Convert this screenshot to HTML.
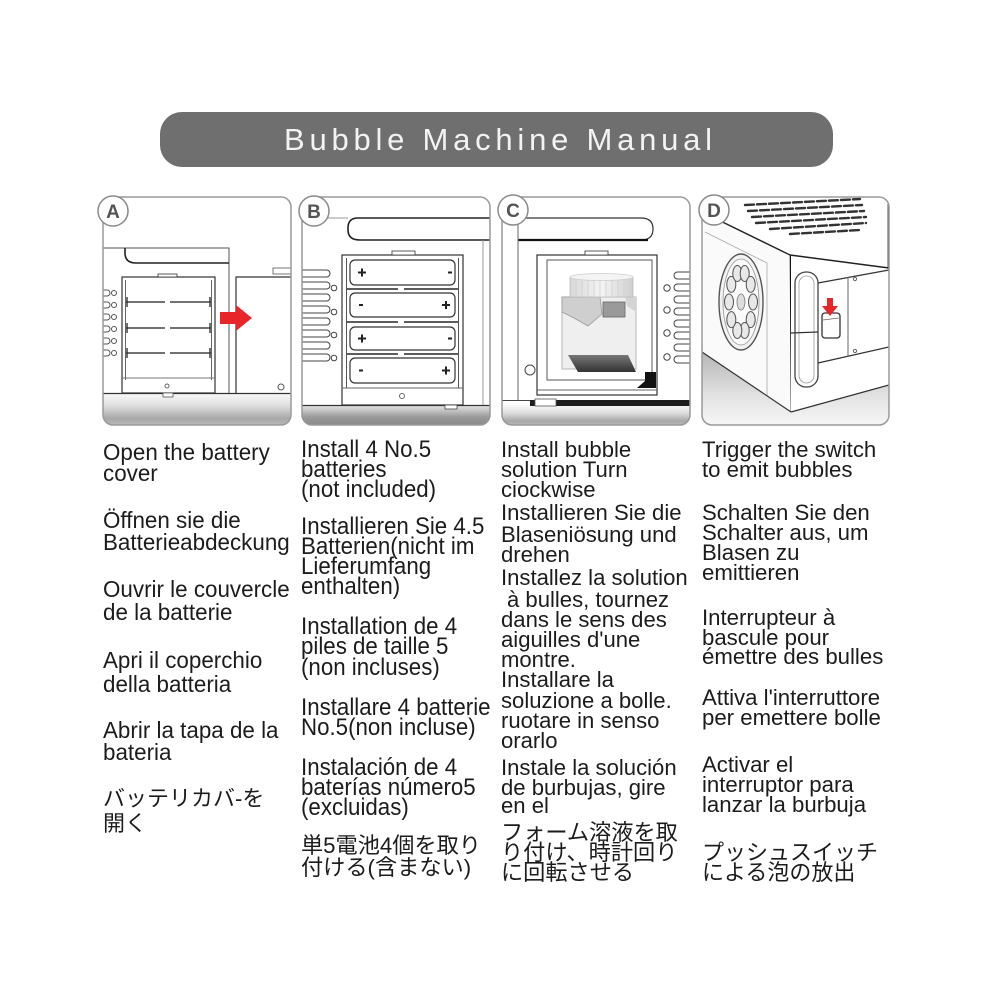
<!DOCTYPE html>
<html><head><meta charset="utf-8">
<style>html,body{margin:0;padding:0;background:#fff}svg{display:block}</style>
</head>
<body>
<svg width="1000" height="1000" viewBox="0 0 1000 1000" xmlns="http://www.w3.org/2000/svg">
<defs>
 <linearGradient id="fl" x1="0" y1="0" x2="0" y2="1">
  <stop offset="0" stop-color="#fafafa"/><stop offset="0.4" stop-color="#dedede"/><stop offset="0.8" stop-color="#a8a8a8"/><stop offset="1" stop-color="#b8b8b8"/>
 </linearGradient>
 <linearGradient id="fl2" x1="0" y1="0" x2="0" y2="1">
  <stop offset="0" stop-color="#e8e8e8"/><stop offset="0.6" stop-color="#9a9a9a"/><stop offset="1" stop-color="#888"/>
 </linearGradient>
 <linearGradient id="fl3" x1="0" y1="0" x2="0" y2="1">
  <stop offset="0" stop-color="#b5b5b5"/><stop offset="0.6" stop-color="#e2e2e2"/><stop offset="1" stop-color="#f6f6f6"/>
 </linearGradient>
 <linearGradient id="cap" x1="0" y1="0" x2="1" y2="0">
  <stop offset="0" stop-color="#d8d8d8"/><stop offset="0.5" stop-color="#f4f4f4"/><stop offset="1" stop-color="#d0d0d0"/>
 </linearGradient>
 <linearGradient id="base" x1="0" y1="0" x2="0" y2="1">
  <stop offset="0" stop-color="#777"/><stop offset="1" stop-color="#333"/>
 </linearGradient>
 <clipPath id="cA"><rect x="103" y="197" width="188" height="228" rx="10"/></clipPath>
 <clipPath id="cB"><rect x="302" y="197" width="188" height="228" rx="10"/></clipPath>
 <clipPath id="cC"><rect x="502" y="197" width="188" height="228" rx="10"/></clipPath>
 <clipPath id="cD"><rect x="702" y="197" width="187" height="228" rx="10"/></clipPath>
</defs>
<rect width="1000" height="1000" fill="#fff"/>

<!-- Header -->
<rect x="160" y="112" width="673" height="55" rx="22" fill="#6f6f6f"/>
<text x="284" y="150" font-family="Liberation Sans, sans-serif" font-size="31" fill="#f3f3f3" textLength="428" lengthAdjust="spacing">Bubble Machine Manual</text>

<!-- ============ Panel A ============ -->
<g clip-path="url(#cA)">
 <rect x="103" y="393" width="188" height="32" fill="url(#fl)"/>
 <line x1="103" y1="393.5" x2="291" y2="393.5" stroke="#333" stroke-width="1.2"/>
 <path d="M103 248H229V393" fill="none" stroke="#555" stroke-width="1"/>
 <path d="M125 248v5q0 10 11 10H229" fill="none" stroke="#222" stroke-width="1.6"/>
 <g fill="none" stroke="#555" stroke-width="1">
  <rect x="100" y="290" width="10" height="6" rx="3"/><circle cx="114" cy="293" r="2.5"/>
  <rect x="100" y="302" width="10" height="6" rx="3"/><circle cx="114" cy="305" r="2.5"/>
  <rect x="100" y="314" width="10" height="6" rx="3"/><circle cx="114" cy="317" r="2.5"/>
  <rect x="100" y="326" width="10" height="6" rx="3"/><circle cx="114" cy="329" r="2.5"/>
  <rect x="100" y="338" width="10" height="6" rx="3"/><circle cx="114" cy="341" r="2.5"/>
  <rect x="100" y="350" width="10" height="6" rx="3"/><circle cx="114" cy="353" r="2.5"/>
 </g>
 <rect x="122" y="277" width="93" height="116" fill="#fff" stroke="#333" stroke-width="1.2"/>
 <rect x="158" y="274" width="19" height="3" fill="#fff" stroke="#333" stroke-width="0.8"/>
 <line x1="125.5" y1="280" x2="125.5" y2="380" stroke="#666" stroke-width="1"/>
 <line x1="211.5" y1="280" x2="211.5" y2="380" stroke="#666" stroke-width="1"/>
 <g stroke="#444" stroke-width="1.6">
  <line x1="126" y1="302" x2="165" y2="302"/><line x1="170" y1="302" x2="211" y2="302"/>
  <line x1="126" y1="328" x2="165" y2="328"/><line x1="170" y1="328" x2="211" y2="328"/>
  <line x1="126" y1="353" x2="165" y2="353"/><line x1="170" y1="353" x2="211" y2="353"/>
 </g>
 <g stroke="#333" stroke-width="1.4">
  <line x1="127" y1="297" x2="127" y2="307"/><line x1="210" y1="297" x2="210" y2="307"/>
  <line x1="127" y1="323" x2="127" y2="333"/><line x1="210" y1="323" x2="210" y2="333"/>
  <line x1="127" y1="348" x2="127" y2="358"/><line x1="210" y1="348" x2="210" y2="358"/>
 </g>
 <line x1="122" y1="378" x2="215" y2="378" stroke="#777" stroke-width="1"/>
 <circle cx="167" cy="386" r="2" fill="none" stroke="#666"/>
 <rect x="163" y="393" width="10" height="4" fill="#fff" stroke="#555" stroke-width="0.8"/>
 <path d="M236 393V277H291" fill="#fff" stroke="#333" stroke-width="1.2"/>
 <rect x="273" y="268" width="20" height="6" fill="#fff" stroke="#555" stroke-width="0.8"/>
 <circle cx="281" cy="387" r="3" fill="none" stroke="#555"/>
 <polygon points="220,312 236,312 236,305 252,318 236,331 236,324 220,324" fill="#e8262a"/>
</g>
<rect x="103" y="197" width="188" height="228" rx="10" fill="none" stroke="#9a9a9a" stroke-width="1.5"/>
<circle cx="113" cy="211" r="15" fill="#fff" stroke="#8a8a8a" stroke-width="1.5"/>
<text x="113" y="218" font-family="Liberation Sans, sans-serif" font-size="19" font-weight="bold" text-anchor="middle" fill="#555">A</text>

<!-- ============ Panel B ============ -->
<g clip-path="url(#cB)">
 <rect x="302" y="405" width="188" height="20" fill="url(#fl2)"/>
 <line x1="302" y1="405.5" x2="490" y2="405.5" stroke="#333" stroke-width="1.2"/>
 <line x1="302" y1="218" x2="348" y2="218" stroke="#999" stroke-width="1"/>
 <path d="M490 218H358q-10 0-10 10v2q0 10 12 10H490" fill="none" stroke="#222" stroke-width="1.6"/>
 <line x1="483" y1="240" x2="483" y2="405" stroke="#999" stroke-width="1"/>
 <g fill="none" stroke="#444" stroke-width="1">
  <rect x="296" y="270" width="34" height="7" rx="3.5"/>
  <rect x="296" y="282" width="34" height="7" rx="3.5"/>
  <rect x="296" y="294" width="34" height="7" rx="3.5"/>
  <rect x="296" y="306" width="34" height="7" rx="3.5"/>
  <rect x="296" y="318" width="34" height="7" rx="3.5"/>
  <rect x="296" y="330" width="34" height="7" rx="3.5"/>
  <rect x="296" y="342" width="34" height="7" rx="3.5"/>
  <rect x="296" y="354" width="34" height="7" rx="3.5"/>
  <circle cx="334" cy="288" r="2.8"/><circle cx="334" cy="312" r="2.8"/>
  <circle cx="334" cy="335" r="2.8"/><circle cx="334" cy="358" r="2.8"/>
 </g>
 <rect x="342" y="255" width="121" height="150" fill="#fff" stroke="#333" stroke-width="1.2"/>
 <rect x="392" y="251" width="23" height="4" fill="#fff" stroke="#333" stroke-width="0.8"/>
 <line x1="346.5" y1="258" x2="346.5" y2="388" stroke="#555"/>
 <line x1="458.5" y1="258" x2="458.5" y2="388" stroke="#555"/>
 <g stroke="#444" stroke-width="1.8">
  <line x1="347" y1="289" x2="398" y2="289"/><line x1="404" y1="289" x2="458" y2="289"/>
  <line x1="347" y1="322" x2="398" y2="322"/><line x1="404" y1="322" x2="458" y2="322"/>
  <line x1="347" y1="354" x2="398" y2="354"/><line x1="404" y1="354" x2="458" y2="354"/>
 </g>
 <g fill="#fff" stroke="#333" stroke-width="1.2">
  <rect x="350" y="260" width="105" height="25" rx="5"/>
  <rect x="350" y="293" width="105" height="24" rx="5"/>
  <rect x="350" y="327" width="105" height="23" rx="5"/>
  <rect x="350" y="358" width="105" height="25" rx="5"/>
 </g>
 <g stroke="#222" stroke-width="2">
  <line x1="358" y1="272.5" x2="366" y2="272.5"/><line x1="362" y1="268.5" x2="362" y2="276.5"/>
  <line x1="448" y1="272.5" x2="452" y2="272.5"/>
  <line x1="359" y1="305" x2="363" y2="305"/>
  <line x1="442" y1="305" x2="450" y2="305"/><line x1="446" y1="301" x2="446" y2="309"/>
  <line x1="358" y1="338.5" x2="366" y2="338.5"/><line x1="362" y1="334.5" x2="362" y2="342.5"/>
  <line x1="448" y1="338.5" x2="452" y2="338.5"/>
  <line x1="359" y1="370.5" x2="363" y2="370.5"/>
  <line x1="442" y1="370.5" x2="450" y2="370.5"/><line x1="446" y1="366.5" x2="446" y2="374.5"/>
 </g>
 <line x1="342" y1="388" x2="463" y2="388" stroke="#666"/>
 <circle cx="402" cy="396" r="2.5" fill="none" stroke="#666"/>
 <rect x="445" y="405" width="12" height="4" fill="#fff" stroke="#444" stroke-width="0.8"/>
</g>
<rect x="302" y="197" width="188" height="228" rx="10" fill="none" stroke="#9a9a9a" stroke-width="1.5"/>
<circle cx="314" cy="211" r="15" fill="#fff" stroke="#8a8a8a" stroke-width="1.5"/>
<text x="314" y="218" font-family="Liberation Sans, sans-serif" font-size="19" font-weight="bold" text-anchor="middle" fill="#555">B</text>

<!-- ============ Panel C ============ -->
<g clip-path="url(#cC)">
 <rect x="502" y="405" width="188" height="20" fill="url(#fl)"/>
 <rect x="530" y="400" width="160" height="6" fill="#1e1e1e"/>
 <line x1="502" y1="400.5" x2="530" y2="400.5" stroke="#444"/>
 <rect x="535" y="399" width="21" height="7" fill="#fff" stroke="#555" stroke-width="0.8"/>
 <path d="M518 218H641q12 0 12 11q0 11-12 11H518" fill="none" stroke="#333" stroke-width="1.2"/>
 <line x1="518" y1="240" x2="648" y2="240" stroke="#111" stroke-width="2.2"/>
 <line x1="518" y1="218" x2="518" y2="400" stroke="#666" stroke-width="1"/>
 <g fill="none" stroke="#444" stroke-width="1">
  <rect x="674" y="272" width="30" height="7" rx="3.5"/>
  <rect x="674" y="284" width="30" height="7" rx="3.5"/>
  <rect x="674" y="296" width="30" height="7" rx="3.5"/>
  <rect x="674" y="308" width="30" height="7" rx="3.5"/>
  <rect x="674" y="320" width="30" height="7" rx="3.5"/>
  <rect x="674" y="332" width="30" height="7" rx="3.5"/>
  <rect x="674" y="344" width="30" height="7" rx="3.5"/>
  <rect x="674" y="356" width="30" height="7" rx="3.5"/>
  <circle cx="667" cy="288" r="3.2"/><circle cx="667" cy="310" r="3.2"/>
  <circle cx="667" cy="333" r="3.2"/><circle cx="667" cy="357" r="3.2"/>
 </g>
 <circle cx="530" cy="370" r="5" fill="none" stroke="#444"/>
 <rect x="537" y="255" width="120" height="140" fill="#fff" stroke="#333" stroke-width="1.2"/>
 <rect x="585" y="251" width="23" height="4" fill="#fff" stroke="#333" stroke-width="0.8"/>
 <rect x="547" y="260" width="105" height="120" fill="none" stroke="#555" stroke-width="1"/>
 <line x1="537" y1="390" x2="657" y2="390" stroke="#666"/>
 <polygon points="637,388 656,388 656,372 645,372 645,381" fill="#111"/>
 <rect x="562" y="297" width="74" height="72" fill="#efefef" stroke="#b5b5b5" stroke-width="1"/>
 <polygon points="562,297 600,297 602,314 588,326 574,318 562,312" fill="#cfcfcf" stroke="#999" stroke-width="0.8"/>
 <rect x="603" y="302" width="22" height="15" fill="#9a9a9a" stroke="#666" stroke-width="0.8"/>
 <polygon points="625,297 636,297 636,312 627,306" fill="#d4d4d4"/>
 <rect x="570" y="277" width="63" height="20" fill="url(#cap)" stroke="#bbb" stroke-width="0.8"/>
 <ellipse cx="601.5" cy="277" rx="31.5" ry="3.5" fill="#f4f4f4" stroke="#ccc" stroke-width="0.8"/>
 <g stroke="#d0d0d0" stroke-width="0.8">
  <line x1="576" y1="280" x2="576" y2="296"/><line x1="582" y1="280" x2="582" y2="296"/>
  <line x1="588" y1="280" x2="588" y2="296"/><line x1="594" y1="280" x2="594" y2="296"/>
  <line x1="600" y1="280" x2="600" y2="296"/><line x1="606" y1="280" x2="606" y2="296"/>
  <line x1="612" y1="280" x2="612" y2="296"/><line x1="618" y1="280" x2="618" y2="296"/>
  <line x1="624" y1="280" x2="624" y2="296"/>
 </g>
 <polygon points="568,355 628,355 636,372 578,372" fill="url(#base)"/>
</g>
<rect x="502" y="197" width="188" height="228" rx="10" fill="none" stroke="#9a9a9a" stroke-width="1.5"/>
<circle cx="513" cy="210" r="15" fill="#fff" stroke="#8a8a8a" stroke-width="1.5"/>
<text x="513" y="217" font-family="Liberation Sans, sans-serif" font-size="19" font-weight="bold" text-anchor="middle" fill="#555">C</text>

<!-- ============ Panel D ============ -->
<g clip-path="url(#cD)">
 <polygon points="702,352 791,412 889,385 889,425 702,425" fill="url(#fl3)"/>
 <polygon points="702,190 889,190 889,268 790,255 702,212" fill="#fff"/>
 <g stroke="#333" stroke-width="2.4" stroke-dasharray="9 3" stroke-linecap="round">
  <line x1="745" y1="205" x2="860" y2="199"/>
  <line x1="748" y1="211" x2="862" y2="205"/>
  <line x1="752" y1="217" x2="864" y2="211"/>
  <line x1="756" y1="223" x2="866" y2="217"/>
  <line x1="770" y1="229" x2="866" y2="223"/>
  <line x1="790" y1="234" x2="860" y2="230"/>
 </g>
 <line x1="888" y1="197" x2="888" y2="268" stroke="#555"/>
 <polygon points="702,212 790,255 791,412 702,352" fill="#fafafa"/>
 <path d="M702 212L790 255" fill="none" stroke="#222" stroke-width="1.4"/>
 <path d="M705 232L767 263V396" fill="none" stroke="#aaa" stroke-width="0.8"/>
 <line x1="790.5" y1="255" x2="791.5" y2="412" stroke="#111" stroke-width="1.6"/>
 <line x1="702" y1="352" x2="791" y2="412" stroke="#333" stroke-width="1.2"/>
 <ellipse cx="741" cy="302" rx="22" ry="48" fill="#f2f2f2" stroke="#555" stroke-width="1.4"/>
 <ellipse cx="741" cy="302" rx="18" ry="43" fill="#fafafa" stroke="#999" stroke-width="0.8"/>
 <g fill="#e8e8e8" stroke="#555" stroke-width="1">
  <ellipse cx="753" cy="302" rx="4.5" ry="8"/>
  <ellipse cx="750.7" cy="319.6" rx="4.5" ry="8"/>
  <ellipse cx="744.7" cy="330.5" rx="4.5" ry="8"/>
  <ellipse cx="737.3" cy="330.5" rx="4.5" ry="8"/>
  <ellipse cx="731.3" cy="319.6" rx="4.5" ry="8"/>
  <ellipse cx="729" cy="302" rx="4.5" ry="8"/>
  <ellipse cx="731.3" cy="284.4" rx="4.5" ry="8"/>
  <ellipse cx="737.3" cy="273.5" rx="4.5" ry="8"/>
  <ellipse cx="744.7" cy="273.5" rx="4.5" ry="8"/>
  <ellipse cx="750.7" cy="284.4" rx="4.5" ry="8"/>
 </g>
 <ellipse cx="741" cy="302" rx="4" ry="8" fill="#ddd" stroke="#777" stroke-width="0.8"/>
 <polygon points="791,255 889,268 889,385 791,412" fill="#fff"/>
 <line x1="790" y1="255" x2="889" y2="268" stroke="#222" stroke-width="1.4"/>
 <line x1="791" y1="412" x2="889" y2="385" stroke="#333" stroke-width="1.2"/>
 <rect x="795" y="272" width="23" height="115" rx="11" fill="none" stroke="#444" stroke-width="1.3"/>
 <rect x="799" y="276" width="15" height="107" rx="7.5" fill="none" stroke="#999" stroke-width="0.8"/>
 <line x1="791" y1="333" x2="818" y2="332" stroke="#333" stroke-width="1.2"/>
 <line x1="818" y1="283" x2="889" y2="270" stroke="#333" stroke-width="1.2"/>
 <line x1="818" y1="363" x2="889" y2="347" stroke="#333" stroke-width="1.2"/>
 <line x1="848" y1="277" x2="848" y2="357" stroke="#666" stroke-width="1"/>
 <circle cx="855" cy="279" r="1.6" fill="none" stroke="#666"/>
 <circle cx="855" cy="351" r="1.6" fill="none" stroke="#666"/>
 <rect x="822" y="313" width="18" height="25" rx="3" fill="#fff" stroke="#333" stroke-width="1.3"/>
 <line x1="823" y1="320" x2="839" y2="318" stroke="#666" stroke-width="0.8"/>
 <polygon points="827,298 833,298 833,306 838,306 830,316 822,306 827,306" fill="#e8262a"/>
</g>
<rect x="702" y="197" width="187" height="228" rx="10" fill="none" stroke="#9a9a9a" stroke-width="1.5"/>
<circle cx="714" cy="210" r="15" fill="#fff" stroke="#8a8a8a" stroke-width="1.5"/>
<text x="714" y="217" font-family="Liberation Sans, sans-serif" font-size="19" font-weight="bold" text-anchor="middle" fill="#555">D</text>

<!-- ============ Text columns ============ -->
<g font-family="Liberation Sans, Noto Sans CJK JP, sans-serif" fill="#1c1c1c">
 <g font-size="22.4">
  <text transform="translate(103,460) scale(1,1.04)">Open the battery</text>
  <text transform="translate(103,481) scale(1,1.04)">cover</text>
  <text transform="translate(103,528) scale(1,1.04)">Öffnen sie die</text>
  <text transform="translate(103,550) scale(1,1.04)">Batterieabdeckung</text>
  <text transform="translate(103,597) scale(1,1.04)">Ouvrir le couvercle</text>
  <text transform="translate(103,620) scale(1,1.04)">de la batterie</text>
  <text transform="translate(103,668) scale(1,1.04)">Apri il coperchio</text>
  <text transform="translate(103,692) scale(1,1.04)">della batteria</text>
  <text transform="translate(103,738) scale(1,1.04)">Abrir la tapa de la</text>
  <text transform="translate(103,760) scale(1,1.04)">bateria</text>
 </g>
 <g font-size="22">
  <text x="103" y="806">バッテリカバ-を</text>
  <text x="103" y="831">開く</text>
 </g>

 <g font-size="22.3">
  <text transform="translate(301,457) scale(1,1.06)">Install 4 No.5</text>
  <text transform="translate(301,477) scale(1,1.06)">batteries</text>
  <text transform="translate(301,497) scale(1,1.06)">(not included)</text>
  <text transform="translate(301,534) scale(1,1.06)">Installieren Sie 4.5</text>
  <text transform="translate(301,554) scale(1,1.06)">Batterien(nicht im</text>
  <text transform="translate(301,574) scale(1,1.06)">Lieferumfang</text>
  <text transform="translate(301,594) scale(1,1.06)">enthalten)</text>
  <text transform="translate(301,634) scale(1,1.06)">Installation de 4</text>
  <text transform="translate(301,654) scale(1,1.06)">piles de taille 5</text>
  <text transform="translate(301,675) scale(1,1.06)">(non incluses)</text>
  <text transform="translate(301,715) scale(1,1.06)">Installare 4 batterie</text>
  <text transform="translate(301,735) scale(1,1.06)">No.5(non incluse)</text>
  <text transform="translate(301,775) scale(1,1.06)">Instalación de 4</text>
  <text transform="translate(301,795) scale(1,1.06)">baterías número5</text>
  <text transform="translate(301,815) scale(1,1.06)">(excluidas)</text>
 </g>
 <g font-size="22.2">
  <text x="301" y="853">単5電池4個を取り</text>
  <text x="301" y="875">付ける(含まない)</text>
 </g>

 <g font-size="22.1">
  <text transform="translate(501,457) scale(1,1.02)">Install bubble</text>
  <text transform="translate(501,477) scale(1,1.02)">solution Turn</text>
  <text transform="translate(501,497) scale(1,1.02)">ciockwise</text>
  <text transform="translate(501,520) scale(1,1.02)">Installieren Sie die</text>
  <text transform="translate(501,542) scale(1,1.02)">Blaseniösung und</text>
  <text transform="translate(501,562) scale(1,1.02)">drehen</text>
  <text transform="translate(501,585) scale(1,1.02)">Installez la solution</text>
  <text transform="translate(507,607) scale(1,1.02)">à bulles, tournez</text>
  <text transform="translate(501,627) scale(1,1.02)">dans le sens des</text>
  <text transform="translate(501,647) scale(1,1.02)">aiguilles d'une</text>
  <text transform="translate(501,667) scale(1,1.02)">montre.</text>
  <text transform="translate(501,687) scale(1,1.02)">Installare la</text>
  <text transform="translate(501,708) scale(1,1.02)">soluzione a bolle.</text>
  <text transform="translate(501,728) scale(1,1.02)">ruotare in senso</text>
  <text transform="translate(501,748) scale(1,1.02)">orarlo</text>
  <text transform="translate(501,775) scale(1,1.02)">Instale la solución</text>
  <text transform="translate(501,795) scale(1,1.02)">de burbujas, gire</text>
  <text transform="translate(501,813) scale(1,1.02)">en el</text>
 </g>
 <g font-size="22.2">
  <text x="501" y="840">フォーム溶液を取</text>
  <text x="501" y="860">り付け、時計回り</text>
  <text x="501" y="880">に回転させる</text>
 </g>

 <g font-size="22.2">
  <text x="702" y="457">Trigger the switch</text>
  <text x="702" y="477">to emit bubbles</text>
  <text x="702" y="520">Schalten Sie den</text>
  <text x="702" y="540">Schalter aus, um</text>
  <text x="702" y="560">Blasen zu</text>
  <text x="702" y="580">emittieren</text>
  <text x="702" y="625">Interrupteur à</text>
  <text x="702" y="645">bascule pour</text>
  <text x="702" y="664">émettre des bulles</text>
  <text x="702" y="705">Attiva l'interruttore</text>
  <text x="702" y="725">per emettere bolle</text>
  <text x="702" y="772">Activar el</text>
  <text x="702" y="792">interruptor para</text>
  <text x="702" y="812">lanzar la burbuja</text>
 </g>
 <g font-size="22">
  <text x="702" y="860">プッシュスイッチ</text>
  <text x="702" y="880">による泡の放出</text>
 </g>
</g>
</svg>
</body>
</html>
